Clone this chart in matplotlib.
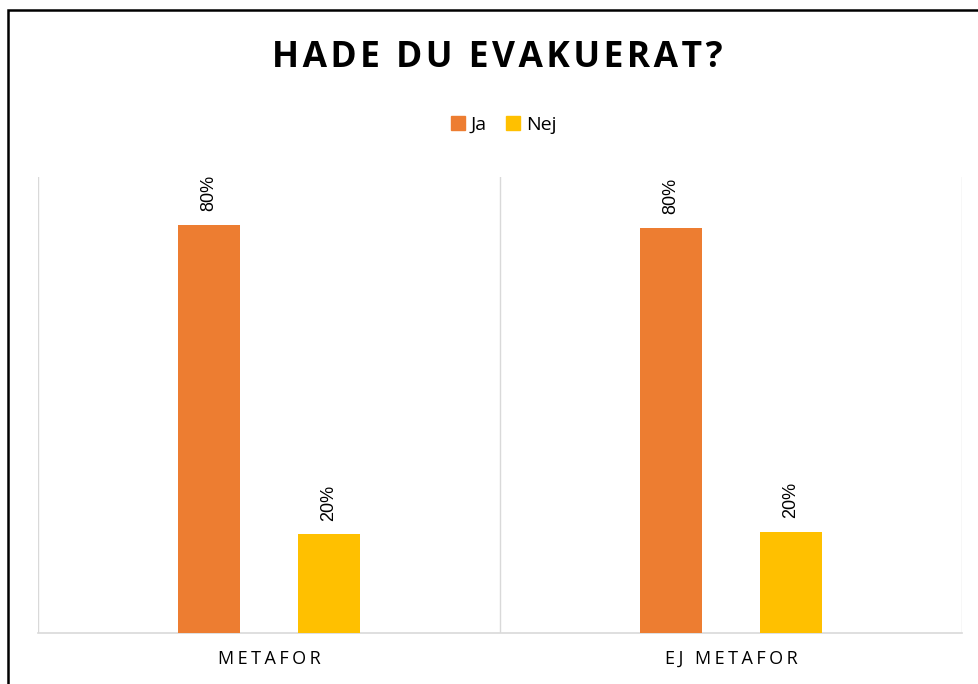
import matplotlib
matplotlib.use("Agg")
import matplotlib.pyplot as plt
import matplotlib.patches as patches
import numpy as np

# data
categories = ["METAFOR", "EJ METAFOR"]
series = ["Ja", "Nej"]
ja_values = [0.805, 0.80]
nej_values = [0.195, 0.20]
colors = ["#ED7D31", "#FFC000"]

HS = "\u200a"  # hair space for letter spacing


def spaced(s, n=1):
    return (HS * n).join(s)


fig = plt.figure(figsize=(9.79, 6.84), dpi=100)
ax = fig.add_axes([38 / 979, 1 - 633 / 684, (962 - 38) / 979, (633 - 177) / 684])

x = np.arange(len(categories))
width = 0.136
offset = 0.13
for i, (vals, name) in enumerate(zip([ja_values, nej_values], series)):
    pos = x + (i - 0.5) * 2 * offset
    bars = ax.bar(pos, vals, width, color=colors[i], label=name, zorder=3)
    for b, v in zip(bars, vals):
        ax.text(b.get_x() + b.get_width() / 2, v + 0.027, f"{v:.0%}",
                rotation=90, ha="center", va="bottom", fontsize=13,
                family="Liberation Sans", color="#000000")

ax.set_xlim(-0.5, len(categories) - 0.5)
ax.set_ylim(0, 0.9)
ax.set_yticks([])
ax.set_xticks(x)
ax.set_xticklabels([spaced(c, 2) for c in categories], family="Open Sans",
                   fontsize=13, color="#000000")
ax.tick_params(axis="x", length=0, pad=12)

# category separators
for sep in [-0.5, 0.5, 1.5]:
    ax.axvline(sep, color="#D9D9D9", linewidth=1, zorder=1)

for side in ["top", "right", "left"]:
    ax.spines[side].set_visible(False)
ax.spines["bottom"].set_color("#D9D9D9")
ax.spines["bottom"].set_linewidth(1.2)

fig.text(0.508, 1 - 58 / 684, spaced("HADE DU EVAKUERAT?", 1), ha="center",
         va="center", fontsize=25.5, fontweight="bold", family="Open Sans")

handles = [patches.Patch(color=c) for c in colors]
fig.legend(handles, series, loc="center", bbox_to_anchor=(0.5145, 1 - 125 / 684),
           ncol=2, frameon=False, prop={"family": "Open Sans", "size": 14},
           handlelength=0.7, handleheight=0.7, handletextpad=0.3,
           columnspacing=1.0)

# outer frame (runs off the right and bottom edges)
frame = patches.Rectangle((8.5 / 979, -0.1), 1.2, 1.1 - 10.5 / 684,
                          transform=fig.transFigure, fill=False,
                          edgecolor="black", linewidth=1.8)
fig.patches.append(frame)

fig.savefig("out.png", dpi=100)
